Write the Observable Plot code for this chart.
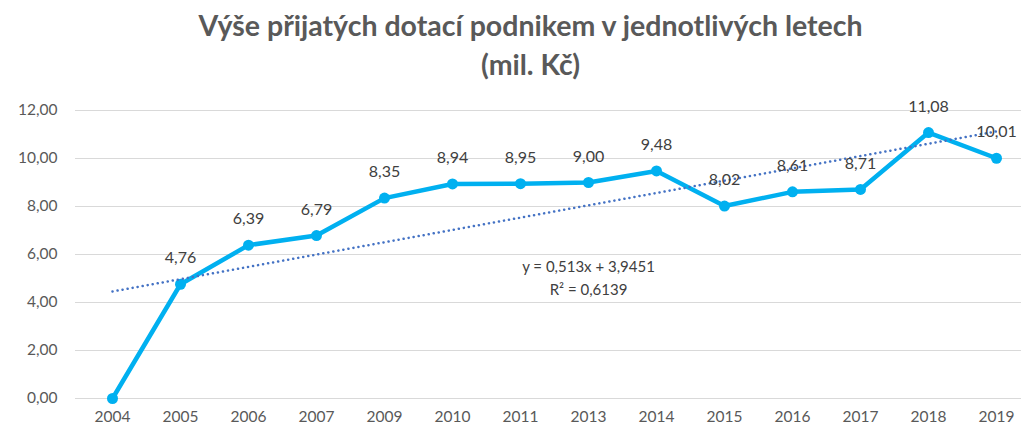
<!DOCTYPE html>
<html>
<head>
<meta charset="utf-8">
<script src="https://cdn.jsdelivr.net/npm/d3@7"></script>
<script src="https://cdn.jsdelivr.net/npm/@observablehq/plot@0.6"></script>
<style>
  html, body { margin: 0; padding: 0; background: #fff; }
  #title { width: 1021px; height: 92px; text-align: center; font-family: Lato, "Open Sans", sans-serif; font-weight: bold; font-size: 28.5px; line-height: 39px; color: #595959; padding-top: 6px; box-sizing: border-box; padding-left: 40px; }
  #chart svg { display: block; }
</style>
</head>
<body>
<div id="title">Výše přijatých dotací podnikem v jednotlivých letech<br>(mil. Kč)</div>
<div id="chart"></div>
<script>
const years = ["2004","2005","2006","2007","2009","2010","2011","2013","2014","2015","2016","2017","2018","2019"];
const values = [0, 4.76, 6.39, 6.79, 8.35, 8.94, 8.95, 9.00, 9.48, 8.02, 8.61, 8.71, 11.08, 10.01];
const yTicks = [0, 2, 4, 6, 8, 10, 12];
const trendSlope = 0.513;
const trendIntercept = 3.9451;
const equationLines = ["y = 0,513x + 3,9451", "R² = 0,6139"];
const equationAnchor = "2013";
const equationY = [5.46, 4.5];

const data = years.map((y, i) => ({year: y, value: values[i]}));
const trend = years.map((y, i) => ({year: y, value: trendSlope * (i + 1) + trendIntercept}));
const labeled = data.filter(d => d.value > 0);
const eqData = equationLines.map((t, i) => ({text: t, year: equationAnchor, value: equationY[i]}));
const fmt = v => v.toFixed(2).replace(".", ",");

const chart = Plot.plot({
  width: 1021,
  height: 338,
  marginLeft: 75,
  marginRight: 0,
  marginTop: 18,
  marginBottom: 32,
  style: {fontFamily: "Lato, 'Open Sans', sans-serif", fontSize: "15px", color: "#595959", background: "#fff"},
  x: {type: "point", domain: years, range: [109, 998], padding: 0, label: null, tickSize: 0, tickPadding: 12},
  y: {domain: [0, 12], ticks: yTicks, tickFormat: fmt, label: null, tickSize: 0, tickPadding: 18},
  marks: [
    Plot.gridY(yTicks, {stroke: "#d9d9d9", strokeOpacity: 1, strokeWidth: 1}),
    Plot.axisX({tickSize: 0, tickPadding: 12, fontSize: 15.5, fill: "#595959"}),
    Plot.axisY({ticks: yTicks, tickFormat: fmt, tickSize: 0, tickPadding: 18, fontSize: 15.5, fill: "#595959"}),
    Plot.line(data, {x: "year", y: "value", stroke: "#00B0F0", strokeWidth: 4.5, strokeLinejoin: "round"}),
    Plot.dot(data, {x: "year", y: "value", r: 5.5, fill: "#00B0F0", stroke: "none"}),
    Plot.line(trend, {x: "year", y: "value", stroke: "#4472C4", strokeWidth: 2.5, strokeDasharray: "0.1,5", strokeLinecap: "round"}),
    Plot.text(labeled, {x: "year", y: "value", text: d => fmt(d.value), dy: -26, fontSize: 16, fill: "#404040"}),
    Plot.text(eqData, {x: "year", y: "value", text: "text", fontSize: 15, fill: "#404040"})
  ]
});
document.getElementById("chart").append(chart);
</script>
</body>
</html>
